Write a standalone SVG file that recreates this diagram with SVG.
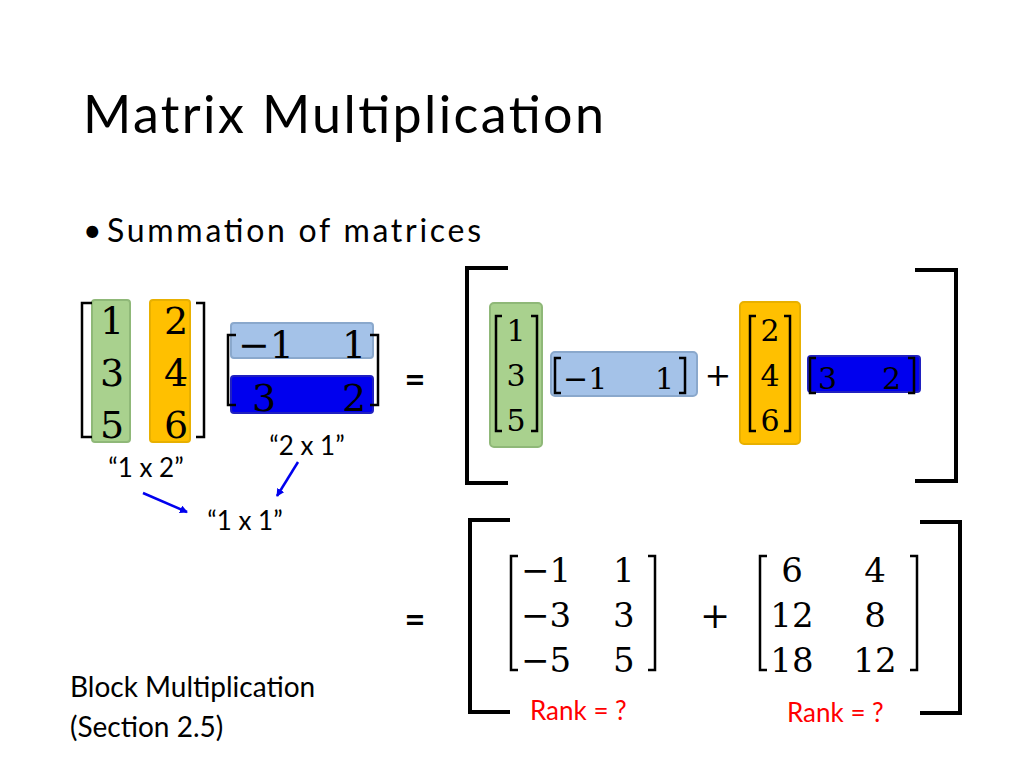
<svg xmlns="http://www.w3.org/2000/svg" width="1024" height="768" viewBox="0 0 1024 768">
<defs>
<style>
.s{font-family:Lato,"Liberation Sans",sans-serif;fill:#000}
.m{font-family:"DejaVu Serif","Liberation Serif",serif;fill:#000}
.br{fill:none;stroke:#000;stroke-width:2.5}
.bb{fill:none;stroke:#000;stroke-width:4}
.g{fill:#a9d18e;stroke:#8fb878;stroke-width:2}
.o{fill:#ffc000;stroke:#e8b000;stroke-width:2}
.lb{fill:#a4c2e8;stroke:#8aa8cc;stroke-width:2}
.db{fill:#0000ee;stroke:#2020c0;stroke-width:2}
.r{font-family:Lato,"Liberation Sans",sans-serif;fill:#ff0000;font-size:26px}
</style>
<marker id="ah" markerWidth="8" markerHeight="8" refX="7" refY="4" orient="auto" markerUnits="userSpaceOnUse"><path d="M0,0 L8,4 L0,8z" fill="#0000ee"/></marker>
</defs>
<rect width="1024" height="768" fill="#fff"/>
<text class="s" x="83" y="133" font-size="52" textLength="521" lengthAdjust="spacing">Matrix Multiplication</text>
<text class="s" x="83" y="242" font-size="32">•</text>
<text class="s" x="107" y="242" font-size="32" textLength="374" lengthAdjust="spacing">Summation of matrices</text>

<g id="lhsA">
<rect class="g" x="92" y="300" width="38" height="142" rx="3"/>
<rect class="o" x="150" y="300" width="40" height="142" rx="3"/>
<path class="br" d="M92,303 H82 V437 H92 M196,303 H204 V437 H196"/>
<g class="m" font-size="38" text-anchor="middle"><text x="112" y="334">1</text><text x="112" y="386">3</text><text x="112" y="438">5</text>
<text x="176" y="334">2</text><text x="176" y="386">4</text><text x="176" y="438">6</text></g>
</g>
<g id="lhsB">
<rect class="lb" x="231" y="323" width="142" height="35" rx="3"/>
<rect class="db" x="231" y="376" width="142" height="37" rx="3"/>
<path class="br" d="M236,335 H228 V405 H236 M370,335 H378 V405 H370"/>
<g class="m" font-size="38"><text x="238" y="358">−1</text><text x="342" y="358">1</text><text x="252" y="411">3</text><text x="342" y="411">2</text></g>
</g>
<text class="s" x="415" y="392" font-size="36" font-weight="bold" text-anchor="middle">=</text>
<g class="s" font-size="26" text-anchor="middle">
<text x="307" y="455">“2 x 1”</text><text x="146" y="477">“1 x 2”</text><text x="245" y="530">“1 x 1”</text>
</g>
<g id="connectors" stroke="#0000ee" stroke-width="2.5">
<line x1="143" y1="493" x2="187" y2="512" marker-end="url(#ah)"/>
<line x1="298" y1="462" x2="277" y2="496" marker-end="url(#ah)"/>
</g>

<g id="rhs1">
<path class="bb" d="M508,268 H467 V483 H508 M915,270 H956 V481 H915"/>
<rect class="g" x="490" y="303" width="52" height="144" rx="4"/>
<path class="br" d="M502,316 H496 V431 H502 M531,316 H537 V431 H531"/>
<g class="m" font-size="30" text-anchor="middle"><text x="516" y="341">1</text><text x="516" y="386">3</text><text x="516" y="431">5</text></g>
<rect class="lb" x="551" y="352" width="146" height="44" rx="4"/>
<path class="br" d="M561,358 H555 V393 H561 M679,358 H685 V393 H679"/>
<g class="m" font-size="30"><text x="563" y="389">−1</text><text x="655" y="389">1</text></g>
<text class="m" x="718" y="386" font-size="32" text-anchor="middle">+</text>
<rect class="o" x="740" y="302" width="60" height="142" rx="4"/>
<path class="br" d="M756,316 H750 V431 H756 M784,316 H790 V431 H784"/>
<g class="m" font-size="30" text-anchor="middle"><text x="770" y="341">2</text><text x="770" y="386">4</text><text x="770" y="431">6</text></g>
<rect class="db" x="808" y="356" width="112" height="36" rx="3"/>
<path class="br" d="M816,358 H810 V393 H816 M908,358 H914 V393 H908"/>
<g class="m" font-size="30"><text x="818" y="389">3</text><text x="882" y="389">2</text></g>
</g>

<text class="s" x="415" y="632" font-size="36" font-weight="bold" text-anchor="middle">=</text>
<g id="rhs2">
<path class="bb" d="M510,520 H470 V712 H510 M920,522 H960 V713 H920"/>
<path class="br" d="M518,556 H511 V670 H518 M648,556 H655 V670 H648"/>
<g class="m" font-size="34"><text x="521" y="582">−1</text><text x="613" y="582">1</text><text x="521" y="627">−3</text><text x="613" y="627">3</text><text x="521" y="672">−5</text><text x="613" y="672">5</text></g>
<text class="m" x="715" y="628" font-size="36" text-anchor="middle">+</text>
<path class="br" d="M767,556 H760 V670 H767 M910,556 H917 V670 H910"/>
<g class="m" font-size="34" text-anchor="middle"><text x="792" y="582">6</text><text x="875" y="582">4</text><text x="792" y="627">12</text><text x="875" y="627">8</text><text x="792" y="672">18</text><text x="875" y="672">12</text></g>
<text class="r" x="530" y="720">Rank = ?</text>
<text class="r" x="787" y="722">Rank = ?</text>
</g>
<g class="s" font-size="28"><text x="70" y="697">Block Multiplication</text><text x="70" y="737">(Section 2.5)</text></g>
</svg>
